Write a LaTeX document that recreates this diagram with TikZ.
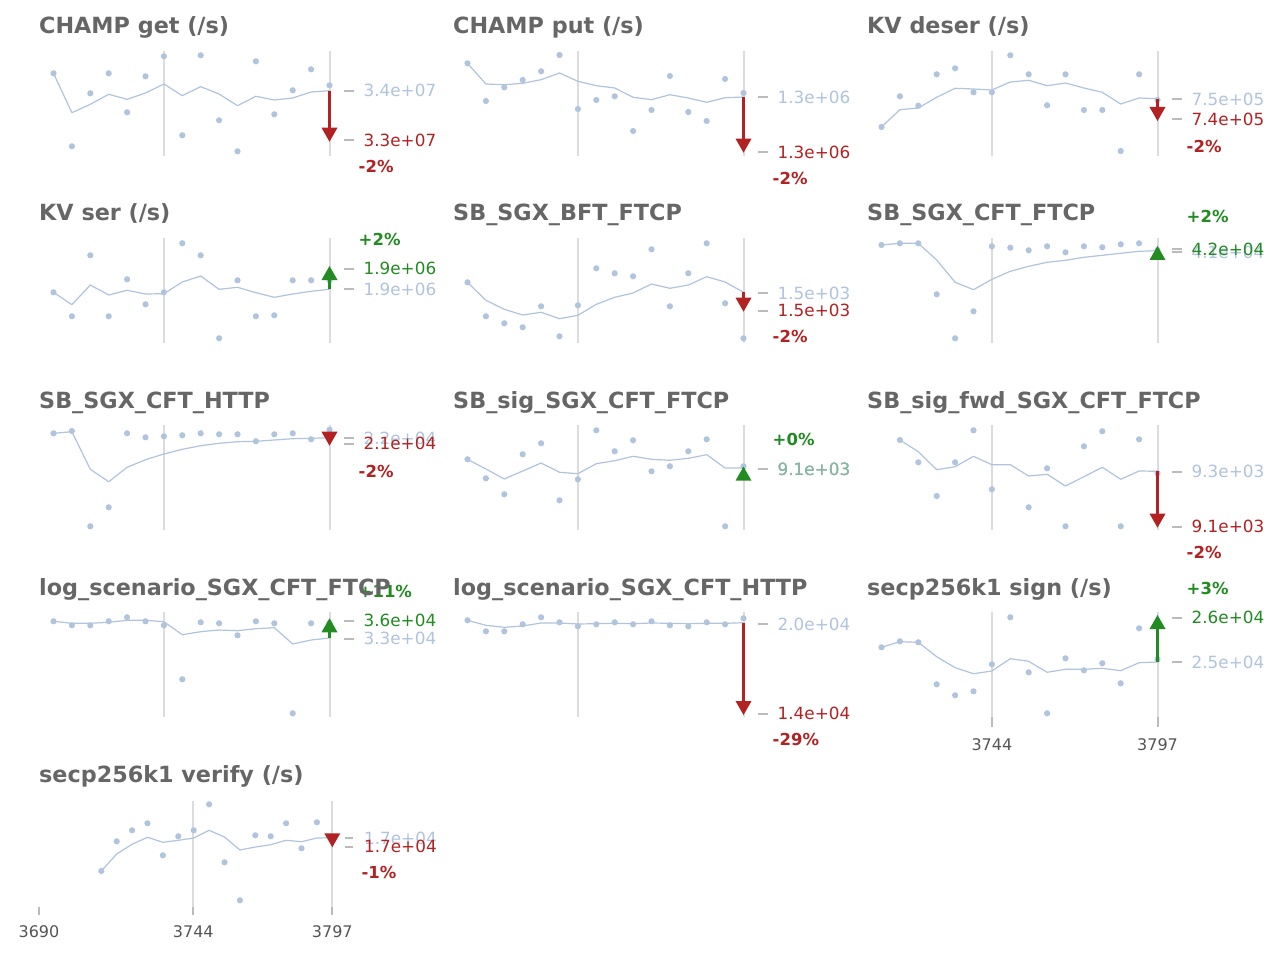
\documentclass[tikz,border=0pt]{standalone}
\usepackage{fontspec}
\setmainfont{DejaVu Sans}
\definecolor{lsb}{HTML}{B0C4DE}
\definecolor{fbr}{HTML}{B22222}
\definecolor{fgr}{HTML}{228B22}
\definecolor{vlc}{HTML}{DCDCDC}
\definecolor{tkc}{HTML}{BBBBBB}
\definecolor{ttlc}{HTML}{666666}
\definecolor{axc}{HTML}{555555}
\tikzset{
  serline/.style={draw=lsb, line width=1.2pt, line join=round},
  dotc/.style={fill=lsb},
  vline/.style={draw=vlc, line width=2pt},
  axtick/.style={draw=tkc, line width=2pt},
  dashc/.style={draw=tkc, line width=2pt},
  valab/.style={inner sep=0pt, anchor=west, font=\fontsize{16.8}{18}\selectfont},
  pct/.style={inner sep=0pt, anchor=west, font=\fontsize{16.5}{18}\bfseries\selectfont},
  ttl/.style={inner sep=0pt, anchor=base west, text=ttlc, font=\fontsize{22.3}{24}\bfseries\selectfont},
  axlab/.style={inner sep=0pt, text=axc, font=\fontsize{16}{18}\selectfont},
}
% #1 x0, #2 step, #3 first y, #4 remaining ys
\newcommand\pser[4]{\draw[serline] (#1,#3) \foreach \yy [count=\ii from 1] in {#4} { -- ({#1+\ii*#2},\yy) };}
% #1 x0, #2 step, #3 ys
\newcommand\pdots[3]{\foreach \yy [count=\ii from 0] in {#3} {\fill[dotc] ({#1+\ii*#2},\yy) circle (3.1);}}
% #1 x, #2 top, #3 bottom
\newcommand\pvl[3]{\draw[vline] (#1,#2) -- (#1,#3);}
% value label: #1 vline x, #2 y, #3 colour, #4 text
\newcommand\pval[4]{\draw[dashc] ({#1+14},#2) -- ({#1+24},#2); \node[valab,text=#3] at ({#1+34},#2) {#4};}
% percent label
\newcommand\ppct[4]{\node[pct,text=#3] at ({#1+29},#2) {#4};}
% arrows: #1 x, #2 start, #3 tip
\newcommand\pdown[3]{\draw[fbr, line width=2.6pt] (#1,#2) -- (#1,{#3-13}); \fill[fbr] (#1,#3) -- ({#1-8},{#3-14}) -- ({#1+8},{#3-14}) -- cycle;}
\newcommand\pup[3]{\draw[fgr, line width=2.6pt] (#1,#2) -- (#1,{#3+13}); \fill[fgr] (#1,#3) -- ({#1-8},{#3+14}) -- ({#1+8},{#3+14}) -- cycle;}
\begin{document}
\begin{tikzpicture}[x=1pt,y=-1pt]
\useasboundingbox[fill=white] (0,0) rectangle (1280,960);
\def\st{18.4}
\def\ca{53.5}\def\cb{467.5}\def\cc{881.5}
\def\va{163.9}\def\vb{329.5}
\def\vc{577.9}\def\vd{743.5}
\def\ve{991.9}\def\vf{1157.5}
% ---------- vertical lines ----------
\pvl{\va}{51}{156}\pvl{\vb}{51}{156}
\pvl{\vc}{51}{156}\pvl{\vd}{51}{156}
\pvl{\ve}{51}{156}\pvl{\vf}{51}{156}
\pvl{\va}{238}{342.5}\pvl{\vb}{238}{342.5}
\pvl{\vc}{238}{342.5}\pvl{\vd}{238}{342.5}
\pvl{\ve}{238}{342.5}\pvl{\vf}{238}{342.5}
\pvl{\va}{425}{530}\pvl{\vb}{425}{530}
\pvl{\vc}{425}{530}\pvl{\vd}{425}{530}
\pvl{\ve}{425}{530}\pvl{\vf}{425}{530}
\pvl{\va}{612.3}{716.7}\pvl{\vb}{612.3}{716.7}
\pvl{\vc}{612.3}{716.7}\pvl{\vd}{612.3}{716.7}
\pvl{\ve}{612.3}{717}\pvl{\vf}{612.3}{717}
\pvl{193.3}{801}{907}\pvl{332.3}{801}{907}
% axis ticks
\draw[axtick] (\ve,717) -- (\ve,727); \draw[axtick] (\vf,717) -- (\vf,727);
\draw[axtick] (39,907) -- (39,915); \draw[axtick] (193.3,907) -- (193.3,915); \draw[axtick] (332.3,907) -- (332.3,915);
\node[axlab] (t3744a) at (\ve,745) {3744};
\node[axlab] (t3797a) at (\vf,745) {3797};
\node[axlab] (t3690) at (39,931.7) {3690};
\node[axlab] (t3744b) at (193.3,931.7) {3744};
\node[axlab] (t3797b) at (332.3,931.7) {3797};
% ---------- series ----------
% P1 CHAMP get
\pser{\ca}{\st}{73.3}{112.7,104.3,94.3,99.3,93,84,95.7,86.7,94,105.7,96.3,100,98,92,90.7}
\pdots{\ca}{\st}{73.3,146.3,93.3,73.3,112.3,76.3,56.3,135.3,55.3,120.3,151.3,61.3,114.3,90.3,69.3,85.3}
% P2 CHAMP put
\pser{\cb}{\st}{63.3}{84,84.7,83.3,79.7,73,81.3,85.7,88,97.3,99.7,94.7,98,102.3,97.7,97}
\pdots{\cb}{\st}{63.3,101,87.3,80,71.3,55,109,100,96.3,131,110,76,112,121,79,93}
% P3 KV deser
\pser{\cc}{\st}{127}{109.7,108,97.3,88.3,89,90,82,80.3,85.7,83,88,92.3,104,98,98.7}
\pdots{\cc}{\st}{127,96.3,105.7,74.3,68.3,92.3,92.3,55.3,74.3,105.3,74.3,110,110,151,74.3,100}
% P4 KV ser
\pser{\ca}{\st}{292.3}{304.7,285,295,290.3,294,293.7,282,276,289.3,287.3,292.7,297.3,294,291.3,289.3}
\pdots{\ca}{\st}{292.3,316.3,255.3,316.3,279.3,304.3,292.3,243.3,255.3,338.3,280.3,316.3,315.3,280.3,280.3,280.3}
% P5 SB_SGX_BFT_FTCP
\pser{\cb}{\st}{282.3}{300.3,309.3,315,312.3,318.7,315.3,304.3,297.3,293,284,288.3,285,276.7,282,292.3}
\pdots{\cb}{\st}{282.3,316.3,323.3,327.3,306.3,336.3,305.3,268.3,273.3,276.3,249.3,306.3,273.3,243.3,303.3,338.3}
% P6 SB_SGX_CFT_FTCP
\pser{\cc}{\st}{245}{243.3,243.3,260,282.3,289.7,279.3,271.3,266.3,262.3,260.3,257.3,255.3,253.3,251.3,250.7}
\pdots{\cc}{\st}{245,243.3,243.3,294.3,338.3,311.3,246.3,247.7,250.3,246.3,252.3,246.3,247.3,244.3,243.3,250}
% P7 SB_SGX_CFT_HTTP
\pser{\ca}{\st}{433.3}{431.7,469.3,481.7,467.3,459.7,454,449.3,445.7,443.3,441.7,441.3,440,438.7,438.3,437.7}
\pdots{\ca}{\st}{433.3,431,526.3,507.3,433.3,437.3,436.3,435.3,433.3,434.3,434.3,441.3,434.3,433.3,439.3,429.7}
% P8 SB_sig_SGX_CFT_FTCP
\pser{\cb}{\st}{459.3}{469,479,471,463,472.3,473.7,463.7,460.7,456.3,459.3,460.3,458.3,454.7,468,468}
\pdots{\cb}{\st}{459.3,478.3,494.3,454.3,443.3,500.3,479.3,430.3,451.3,440.3,471.3,466.3,451.3,439.3,526.3,466.3}
% P9 SB_sig_fwd_SGX_CFT_FTCP (starts at index 1)
\pser{\cc+\st}{\st}{440}{451.7,469.7,466.7,456.3,464.7,464.7,476,474.3,486,476.7,467.3,479.3,471,471.3}
\pdots{\cc+\st}{\st}{440,462.3,496,462.3,430.3,489.3}
\pdots{\cc+8*\st}{\st}{507.3,468.3,526.3,446.3,431.3,526.3,439.3,473.3}
% P10 log_scenario_SGX_CFT_FTCP
\pser{\ca}{\st}{621.3}{623.3,623.3,622.3,620.3,620.3,621.7,634.7,631.7,630,630.7,628.7,627.7,644,640,638}
\pdots{\ca}{\st}{621.3,625.3,625.3,621.3,617.3,621.3,625.3,679.3,622.3,623.3,635.3,621.3,623.3,713.3,623.3,623}
% P11 log_scenario_SGX_CFT_HTTP
\pser{\cb}{\st}{620.3}{625.3,627.3,626,623,623,624,623.7,623.3,623.7,623,623.3,623.7,623.3,623.3,622.7}
\pdots{\cb}{\st}{620.3,631.3,631.3,624.3,617.3,622.3,626.3,624.3,622.3,624.3,621.3,625.3,626.3,622.3,624.3,618.3}
% P12 secp256k1 sign
\pser{\cc}{\st}{647.3}{641.7,642.3,656.7,667.7,673.7,671,658.7,661.3,672.3,669.3,669.3,668.3,670.7,662.7,662}
\pdots{\cc}{\st}{647.3,641.3,642.3,684.3,695.3,691.3,664.3,617.3,672.3,713.3,658.3,670.3,663.3,683.3,628.3,659.3}
% P13 secp256k1 verify
\pser{101.3}{15.4}{871}{854,844.3,837.3,842.3,840.3,838,830.3,837,850,847,844.7,840.3,841.7,838,837.7}
\pdots{101.3}{15.4}{871,841.3,830.3,823.3,855.3,836.3,830.3,804.3,862.3,900.3,835.3,836.3,823.3,848.3,822.3,837}
% ---------- arrows ----------
\pdown{\vb}{90.7}{141.7}
\pdown{\vd}{97}{152.7}
\pdown{\vf}{98.7}{121}
\pup{\vb}{289.3}{266}
\pdown{\vd}{292.3}{311.7}
\pup{\vf}{250.7}{246}
\pdown{\vb}{437.7}{445.7}
\pup{\vd}{468}{466.7}
\pdown{\vf}{471.3}{527.7}
\pup{\vb}{638}{618.3}
\pdown{\vd}{622.7}{715}
\pup{\vf}{662}{615}
\pdown{332.3}{837.7}{847.3}
% ---------- value labels ----------
\pval{\vb}{90.7}{lsb}{3.4e+07}\pval{\vb}{140.5}{fbr}{3.3e+07}
\pval{\vd}{97.5}{lsb}{1.3e+06}\pval{\vd}{152}{fbr}{1.3e+06}
\pval{\vf}{99.5}{lsb}{7.5e+05}\pval{\vf}{119.5}{fbr}{7.4e+05}
\pval{\vb}{289}{lsb}{1.9e+06}\pval{\vb}{268.5}{fgr}{1.9e+06}
\pval{\vd}{293}{lsb}{1.5e+03}\pval{\vd}{310.5}{fbr}{1.5e+03}
\pval{\vf}{252.5}{lsb}{4.1e+04}\pval{\vf}{249}{fgr}{4.2e+04}
\pval{\vb}{438.3}{lsb}{2.2e+04}\pval{\vb}{443.7}{fbr}{2.1e+04}
\pval{\vd}{469}{fgr}{9.1e+03}
\node[valab,text=lsb,opacity=0.75] at ({\vd+34},469) {9.1e+03};
\pval{\vf}{471.7}{lsb}{9.3e+03}\pval{\vf}{526.7}{fbr}{9.1e+03}
\pval{\vb}{638.7}{lsb}{3.3e+04}\pval{\vb}{620.7}{fgr}{3.6e+04}
\pval{\vd}{624}{lsb}{2.0e+04}\pval{\vd}{713.5}{fbr}{1.4e+04}
\pval{\vf}{662.3}{lsb}{2.5e+04}\pval{\vf}{617.5}{fgr}{2.6e+04}
\draw[dashc] (345,838.3) -- (353,838.3); \node[valab,text=lsb] at (364,838.3) {1.7e+04};
\draw[dashc] (345,846.7) -- (353,846.7); \node[valab,text=fbr] at (364,846.7) {1.7e+04};
% ---------- percent labels ----------
\ppct{\vb}{166.7}{fbr}{-2\%}
\ppct{\vd}{178}{fbr}{-2\%}
\ppct{\vf}{146}{fbr}{-2\%}
\ppct{\vb}{239.3}{fgr}{+2\%}
\ppct{\vd}{336.7}{fbr}{-2\%}
\ppct{\vf}{216.7}{fgr}{+2\%}
\ppct{\vb}{471}{fbr}{-2\%}
\ppct{\vd}{439.3}{fgr}{+0\%}
\ppct{\vf}{552.7}{fbr}{-2\%}
\ppct{\vb}{591.7}{fgr}{+11\%}
\ppct{\vd}{739.3}{fbr}{-29\%}
\ppct{\vf}{588.3}{fgr}{+3\%}
\ppct{332.3}{872.3}{fbr}{-1\%}
% ---------- titles ----------
\node[ttl] (h1) at (39,34) {CHAMP get (/s)};
\node[ttl] (h2) at (453,34) {CHAMP put (/s)};
\node[ttl] (h3) at (867,34) {KV deser (/s)};
\node[ttl] (h4) at (39,221) {KV ser (/s)};
\node[ttl] (h5) at (453,221) {SB\_SGX\_BFT\_FTCP};
\node[ttl] (h6) at (867,221) {SB\_SGX\_CFT\_FTCP};
\node[ttl] (h7) at (39,408) {SB\_SGX\_CFT\_HTTP};
\node[ttl] (h8) at (453,408) {SB\_sig\_SGX\_CFT\_FTCP};
\node[ttl] (h9) at (867,408) {SB\_sig\_fwd\_SGX\_CFT\_FTCP};
\node[ttl] (h10) at (39,595) {log\_scenario\_SGX\_CFT\_FTCP};
\node[ttl] (h11) at (453,595) {log\_scenario\_SGX\_CFT\_HTTP};
\node[ttl] (h12) at (867,595) {secp256k1 sign (/s)};
\node[ttl] (h13) at (39,782) {secp256k1 verify (/s)};
\end{tikzpicture}
\end{document}
